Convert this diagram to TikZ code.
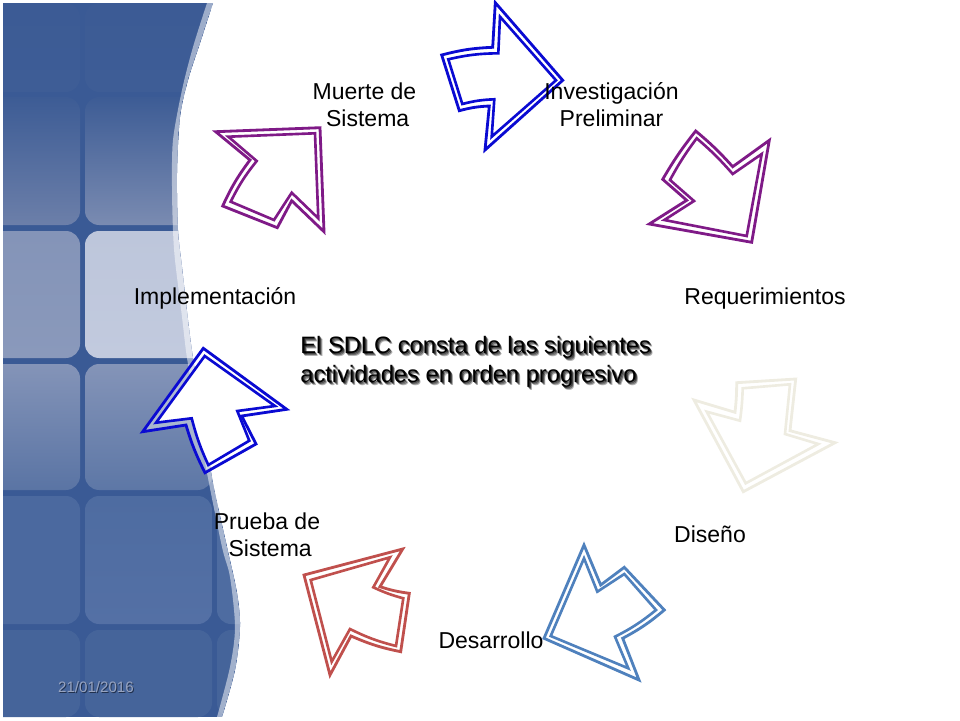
\documentclass[tikz,border=0pt]{standalone}
\usepackage{fontspec}
\setmainfont{Liberation Sans}
\usepackage{xcolor}
\definecolor{panel}{HTML}{3A5A95}
\definecolor{inkblue}{HTML}{0A0AD2}
\definecolor{plum}{HTML}{7F1A87}
\definecolor{cream}{HTML}{EEECE1}
\definecolor{steel}{HTML}{4F81BD}
\definecolor{brick}{HTML}{C0504D}
\definecolor{datetext}{HTML}{97A3BF}
\tikzset{
  outerline/.style={line width=1.6pt, line join=miter, miter limit=8},
  innerline/.style={line width=1.5pt, line join=miter, miter limit=8},
  tile/.style={rounded corners=8pt},
  lab/.style={text=black, align=center, inner sep=0pt, font=\fontsize{13.1}{15.4}\selectfont},
  intro/.style={text=black, align=left, anchor=west, inner sep=0pt, font=\fontsize{13.5}{16.5}\selectfont},
  datelab/.style={inner sep=0pt, font=\fontsize{8.6}{10}\selectfont},
}
\begin{document}
\begin{tikzpicture}[x=0.02cm,y=-0.02cm]
  \useasboundingbox (0,0) rectangle (960,720);
  \begin{scope}
    \clip (3,3) -- plot[smooth] coordinates {(213,3) (200,43) (188,80) (180,117) (177,173) (178,230) (182,267) (188,320) (193,358) (203,420) (213,483) (227,547) (237,593) (240,627) (235,670) (222,717)} -- (3,717) -- cycle;
    \fill[panel] (3,3) rectangle (260,717);
    \foreach \ya/\yb/\ca/\cb/\cc/\cd in {
      3/92/3C5B95/3E5D96/3C5B95/3E5D96,
      97/225/3D5C95/6C7FA9/3D5C95/7A8BB1,
      231/358/8494B8/8A99BB/BDC6DB/C2CADE,
      364/490/8494B8/5A74A4/8494B8/5D77A6,
      496/624/4B699F/4B699F/4E6CA1/5470A5,
      630/717/45649A/45649A/45649A/45649A}{
      \definecolor{topa}{HTML}{\ca}
      \definecolor{bota}{HTML}{\cb}
      \definecolor{topb}{HTML}{\cc}
      \definecolor{botb}{HTML}{\cd}
      \shade[tile, top color=topa, bottom color=bota] (-20,\ya) rectangle (80,\yb);
      \shade[tile, top color=topb, bottom color=botb] (85,\ya) rectangle (212,\yb);
      \fill[tile, topb] (217,\ya) rectangle (300,\yb);
    }
    \fill[white, opacity=0.5] plot[smooth] coordinates {(207,3) (193,47) (182,90) (173,140) (172,187) (173,230) (175,260) (182,317) (187,358) (197,415) (207,473) (222,547) (230,577) (235,627) (230,667) (217,717)} -- plot[smooth] coordinates {(222,717) (235,670) (240,627) (237,593) (227,547) (213,483) (203,420) (193,358) (188,320) (182,267) (178,230) (177,173) (180,117) (188,80) (200,43) (213,3)} -- cycle;
  \end{scope}

  \draw[outerline, draw=inkblue] (495.3,2.7) -- (562.7,80.3) -- (485,150) -- (489.3,106) to[bend right=6] (459.3,110.7) -- (441.7,55) to[bend left=6] (492.7,47.3) -- cycle;
  \draw[innerline, draw=inkblue] (500,16.7) -- (556,80.3) -- (491.7,136.7) -- (494.3,99.3) to[bend right=6] (462.3,104) -- (448.3,59.3) to[bend left=6] (498.3,53.3) -- cycle;

  \draw[outerline, draw=plum] (769.3,140.3) -- (751.7,242.3) -- (649.3,224) -- (686.7,200.3) -- (662.7,179.3) to[bend left=4] (695.7,131) to[bend left=4] (732.7,166.7) -- cycle;
  \draw[innerline, draw=plum] (761.7,154) -- (746.7,236) -- (664.3,220) -- (694,201) -- (670,180) to[bend left=4] (696.7,138.3) to[bend left=4] (732.7,174) -- cycle;

  \draw[outerline, draw=cream] (795.7,379) -- (736.7,382.7) to[bend left=3] (735,412.3) -- (694,400) -- (743.3,491.7) -- (835,442.7) -- (790,430.7) -- cycle;
  \draw[innerline, draw=cream] (790,384.3) -- (742.7,388.3) to[bend left=3] (740,420.7) -- (706.7,411.7) -- (745.7,483.3) -- (818.3,444) -- (785,434) -- cycle;

  \draw[outerline, draw=steel] (584,545) -- (600.7,585) -- (624.3,567.3) -- (664.3,610) to[bend left=6] (622.7,638.3) -- (639,680) -- (544,638.3) -- cycle;
  \draw[innerline, draw=steel] (584,558.3) -- (597.3,591.7) -- (624.3,574) -- (656,610) to[bend left=6] (615,636.7) -- (628.3,668.3) -- (550.7,636) -- cycle;

  \draw[outerline, draw=brick] (402.7,549) -- (304,575) -- (330,675) -- (351,636) to[bend right=6] (400.7,651.7) -- (409.3,593.3) to[bend left=5] (380,586.7) -- cycle;
  \draw[innerline, draw=brick] (390,557.3) -- (310.7,580) -- (331.7,661.7) -- (350,629) to[bend right=6] (396,646) -- (403.3,598.3) to[bend left=5] (373.3,587.3) -- cycle;

  \fill[white, opacity=0.4] (203.3,348.3) -- (286.7,409.3) -- (241.7,416) -- (256,444) -- (205,472.7) to[bend left=5] (186,425) -- (142.7,431.7) -- cycle;
  \draw[outerline, draw=inkblue] (203.3,348.3) -- (286.7,409.3) -- (241.7,416) -- (256,444) -- (205,472.7) to[bend left=5] (186,425) -- (142.7,431.7) -- cycle;
  \draw[innerline, draw=inkblue, fill=white] (204.7,356) -- (275,406) -- (237.3,411) -- (249.3,440.7) -- (208.3,465) to[bend left=5] (191.7,418.3) -- (156,422.7) -- cycle;

  \draw[outerline, draw=plum] (215.7,131.7) -- (320,127.7) -- (324,231.7) -- (291.7,200.7) -- (277.3,227.7) -- (222.7,206) to[bend left=6] (250,160) -- cycle;
  \draw[innerline, draw=plum] (228.3,136.7) -- (315,133.3) -- (318.3,218.3) -- (291.7,192.7) -- (274,220) -- (230.7,201.7) to[bend left=6] (256.7,161) -- cycle;

  \node[lab] (muerte) at (364.5,105) {Muerte de\\\ Sistema};
  \node[lab] (investigacion) at (611.5,105) {Investigación\\Preliminar};
  \node[lab] (requerimientos) at (765,298.5) {Requerimientos};
  \node[lab] (diseno) at (710,534) {Diseño};
  \node[lab] (desarrollo) at (491,640) {Desarrollo};
  \node[lab] (prueba) at (267,535) {Prueba de\\\ Sistema};
  \node[lab] (implementacion) at (215,298) {Implementación};

  \foreach \d/\o in {2.6/0.3,1.8/0.45,1/0.6}
    \node[intro, opacity=\o] (introshadow\d) at (300+\d,362+\d) {El SDLC consta de las siguientes\\actividades en orden progresivo};
  \node[intro] (intro) at (300,362) {El SDLC consta de las siguientes\\actividades en orden progresivo};

  \node[datelab, text=black!70!panel, opacity=0.7] (dateshadow) at (97,688) {21/01/2016};
  \node[datelab, text=datetext] (date) at (96,687) {21/01/2016};
\end{tikzpicture}
\end{document}
